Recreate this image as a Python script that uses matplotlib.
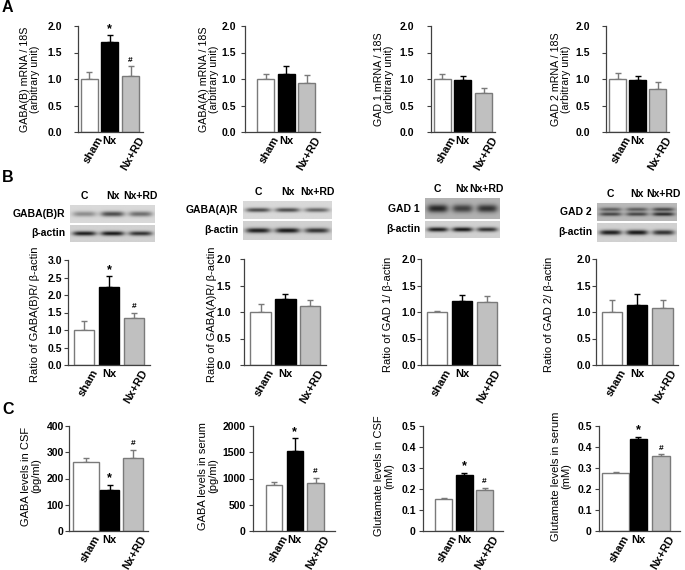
import matplotlib
matplotlib.use('Agg')
import matplotlib.pyplot as plt
import matplotlib.transforms as mtransforms
import numpy as np

plt.rcParams['font.family'] = ['Liberation Sans', 'DejaVu Sans']

W, H = 685, 570

groups = ['sham', 'Nx', 'Nx+RD']
lanes = ['C', 'Nx', 'Nx+RD']

# A: mRNA / 18S
gabab_mrna = [1.00, 1.70, 1.06]
gabab_mrna_err = [0.14, 0.13, 0.18]
gabaa_mrna = [1.00, 1.10, 0.93]
gabaa_mrna_err = [0.09, 0.14, 0.14]
gad1_mrna = [1.00, 0.98, 0.73]
gad1_mrna_err = [0.09, 0.08, 0.10]
gad2_mrna = [1.00, 0.98, 0.81]
gad2_mrna_err = [0.12, 0.08, 0.13]

# B: protein / beta-actin
gabab_prot = [1.00, 2.22, 1.33]
gabab_prot_err = [0.27, 0.33, 0.17]
gabaa_prot = [1.00, 1.25, 1.12]
gabaa_prot_err = [0.16, 0.09, 0.10]
gad1_prot = [1.00, 1.20, 1.19]
gad1_prot_err = [0.02, 0.12, 0.12]
gad2_prot = [1.00, 1.14, 1.08]
gad2_prot_err = [0.23, 0.20, 0.14]

# C: levels
gaba_csf = [262, 155, 277]
gaba_csf_err = [17, 22, 33]
gaba_serum = [885, 1520, 905]
gaba_serum_err = [40, 250, 105]
glu_csf = [0.152, 0.265, 0.197]
glu_csf_err = [0.004, 0.013, 0.007]
glu_serum = [0.277, 0.440, 0.357]
glu_serum_err = [0.006, 0.010, 0.008]

# blot band strength per lane (target, beta-actin)
blot_gabab = [0.30, 0.55, 0.42]
blot_gabaa = [0.55, 0.55, 0.45]
blot_gad1 = [0.55, 0.45, 0.50]
blot_gad2 = [0.45, 0.45, 0.55]
blot_actin = [0.70, 0.72, 0.62]

fills = ['white', 'black', '#c0c0c0']
edges = ['#7a7a7a', 'black', '#7a7a7a']

fig = plt.figure(figsize=(W / 100, H / 100), dpi=100)


def px_axes(x0, x1, y0, y1):
    return fig.add_axes([x0 / W, 1 - y1 / H, (x1 - x0) / W, (y1 - y0) / H])


def bar_panel(box, c0, s, widths, vals, errs, ticks, ticklabels, pad, marks):
    x0, x1, y0, y1 = box
    ax = px_axes(x0, x1, y0, y1)
    pos = np.arange(3)
    ax.bar(pos, vals, width=np.array(widths) / s, color=fills,
           edgecolor=edges, linewidth=1.0, zorder=2)
    for i in range(3):
        ax.errorbar(i, vals[i], yerr=[[0], [errs[i]]], color=edges[i],
                    capsize=2.5, elinewidth=1.0, capthick=1.0, zorder=1)
    ax.set_xlim((x0 - c0) / s, (x1 - c0) / s)
    ax.set_ylim(0, ticks[-1])
    ax.set_yticks(ticks)
    ax.set_yticklabels(ticklabels, fontsize=7.5, fontweight='bold')
    ax.set_xticks([])
    for sp in ['top', 'right']:
        ax.spines[sp].set_visible(False)
    for sp in ['left', 'bottom']:
        ax.spines[sp].set_color('#404040')
        ax.spines[sp].set_linewidth(0.9)
    ax.tick_params(axis='y', length=3, width=0.8, color='#404040',
                   pad=pad * 0.72)
    ax.patch.set_alpha(0)

    trans = mtransforms.blended_transform_factory(ax.transData, ax.transAxes)
    for i, g in enumerate(groups):
        if g == 'Nx':
            off = mtransforms.ScaledTranslation(0, -4 / 100, fig.dpi_scale_trans)
            ax.text(i, 0, g, transform=trans + off, ha='center', va='top',
                    fontsize=8, fontweight='bold')
        else:
            off = mtransforms.ScaledTranslation(7 / 100, -3 / 100, fig.dpi_scale_trans)
            ax.text(i, 0, g, transform=trans + off, ha='right', va='top',
                    rotation=60, rotation_mode='anchor',
                    fontsize=8, fontweight='bold')
    if marks:
        ax.annotate('*', (1, vals[1] + errs[1]), xytext=(0, 0),
                    textcoords='offset points', ha='center', va='bottom',
                    fontsize=9, fontweight='bold')
        ax.annotate('#', (2, vals[2] + errs[2]), xytext=(0, 2),
                    textcoords='offset points', ha='center', va='bottom',
                    fontsize=6, fontweight='bold')
    return ax


def ylabel(text, cx, cy, size):
    fig.text(cx / W, 1 - cy / H, text, rotation=90, ha='center', va='center',
             fontsize=size, linespacing=1.05)


def blot_img(levels, bg, thick, double=False, nrow=24, ncol=90):
    yy = np.linspace(-1, 1, nrow)[:, None]
    xx = np.linspace(0, 3, ncol)[None, :]
    img = np.full((nrow, ncol), bg)
    for i, lev in enumerate(levels):
        lane = np.exp(-((xx - (i + 0.5)) / 0.42) ** 4)
        if double:
            band = 0.8 * np.exp(-((yy + 0.3) / thick) ** 2) + np.exp(-((yy - 0.25) / thick) ** 2)
        else:
            band = np.exp(-(yy / thick) ** 2)
        img = img - lev * lane * band
    return np.clip(img, 0, 1)


def blot(x0, x1, ytop, ymid, ybot, name, levels, bg, thick, double=False):
    a1 = px_axes(x0, x1, ytop, ymid - 1)
    a1.imshow(blot_img(levels, bg, thick, double), cmap='gray', vmin=0, vmax=1,
              aspect='auto', interpolation='bilinear')
    a2 = px_axes(x0, x1, ymid + 1, ybot)
    a2.imshow(blot_img(blot_actin, 0.82, 0.28), cmap='gray', vmin=0, vmax=1,
              aspect='auto', interpolation='bilinear')
    for a in (a1, a2):
        a.set_axis_off()
    fig.text((x0 - 5) / W, 1 - (ytop + ymid) / 2 / H, name, ha='right',
             va='center', fontsize=7.5, fontweight='bold')
    fig.text((x0 - 5) / W, 1 - (ymid + ybot) / 2 / H, '\u03b2-actin', ha='right',
             va='center', fontsize=7.5, fontweight='bold')
    for i, ln in enumerate(lanes):
        fig.text((x0 + (x1 - x0) * (i + 0.5) / 3) / W, 1 - (ytop - 4) / H, ln,
                 ha='center', va='bottom', fontsize=7.5, fontweight='bold')


t_a = [0.0, 0.5, 1.0, 1.5, 2.0]
l_a = ['%.1f' % v for v in t_a]
t_b1 = [0.0, 0.5, 1.0, 1.5, 2.0, 2.5, 3.0]
l_b1 = ['%.1f' % v for v in t_b1]
t_c1 = [0, 100, 200, 300, 400]
t_c2 = [0, 500, 1000, 1500, 2000]
t_c3 = [0, 0.1, 0.2, 0.3, 0.4, 0.5]
l_c3 = ['0', '0.1', '0.2', '0.3', '0.4', '0.5']

# row A
bar_panel((78, 143, 26, 132), 89, 20.75, [17, 17, 17], gabab_mrna, gabab_mrna_err, t_a, l_a, 12, True)
bar_panel((245, 320, 26, 132), 265.5, 20.5, [17, 17, 17], gabaa_mrna, gabaa_mrna_err, t_a, l_a, 5, False)
bar_panel((431, 495, 26, 132), 442, 20.75, [17, 17, 17], gad1_mrna, gad1_mrna_err, t_a, l_a, 13, False)
bar_panel((606, 669, 26, 132), 617.5, 20, [17, 17, 17], gad2_mrna, gad2_mrna_err, t_a, l_a, 12, False)
ylabel('GABA(B) mRNA / 18S\n(arbitrary unit)', 30, 79, 7.7)
ylabel('GABA(A) mRNA / 18S\n(arbitrary unit)', 209, 79, 7.7)
ylabel('GAD 1 mRNA / 18S\n(arbitrary unit)', 384, 79, 7.7)
ylabel('GAD 2 mRNA / 18S\n(arbitrary unit)', 561, 79, 7.7)

# row B blots
blot(70, 155, 205, 224, 242, 'GABA(B)R', blot_gabab, 0.85, 0.30)
blot(243, 332, 201, 220, 240, 'GABA(A)R', blot_gabaa, 0.85, 0.25)
blot(425, 499, 198, 220, 238, 'GAD 1', blot_gad1, 0.70, 0.40)
blot(597, 677, 203, 222, 242, 'GAD 2', blot_gad2, 0.72, 0.22, double=True)

# row B bars
bar_panel((68, 150, 260, 365), 84, 25, [20, 20, 20], gabab_prot, gabab_prot_err, t_b1, l_b1, 2, True)
bar_panel((244, 326, 259, 365), 260.5, 24.75, [20.5, 20.5, 20.5], gabaa_prot, gabaa_prot_err, t_a, l_a, 9, False)
bar_panel((421, 500, 259, 365), 437, 25, [20, 20, 20], gad1_prot, gad1_prot_err, t_a, l_a, 1, False)
bar_panel((596, 678, 259, 365), 612, 25.25, [20, 20, 21], gad2_prot, gad2_prot_err, t_a, l_a, 1, False)
ylabel('Ratio of GABA(B)R/ \u03b2-actin', 35, 314, 8)
ylabel('Ratio of GABA(A)R/ \u03b2-actin', 212, 314, 8)
ylabel('Ratio of GAD 1/ \u03b2-actin', 388, 314, 8)
ylabel('Ratio of GAD 2/ \u03b2-actin', 549, 314, 8)

# row C
bar_panel((69, 148, 426, 531), 86, 23.5, [26, 19, 20], gaba_csf, gaba_csf_err, t_c1, [str(v) for v in t_c1], 1, True)
bar_panel((253, 335, 426, 531), 274, 20.75, [16.5, 16.5, 16.5], gaba_serum, gaba_serum_err, t_c2, [str(v) for v in t_c2], 3, True)
bar_panel((423, 503, 426, 531), 443.5, 20.5, [17, 17, 17], glu_csf, glu_csf_err, t_c3, l_c3, 3, True)
bar_panel((599, 680, 426, 531), 615.5, 22.75, [27, 17, 18], glu_serum, glu_serum_err, t_c3, l_c3, 3, True)
ylabel('GABA levels in CSF\n(pg/ml)', 31, 476, 8)
ylabel('GABA levels in serum\n(pg/ml)', 208, 476, 8)
ylabel('Glutamate levels in CSF\n(mM)', 384, 476, 8)
ylabel('Glutamate levels in serum\n(mM)', 561, 476, 8)

# panel letters
for letter, y in [('A', 8), ('B', 177), ('C', 409)]:
    fig.text(2 / W, 1 - y / H, letter, ha='left', va='center',
             fontsize=11.5, fontweight='bold')

fig.savefig('out.png', dpi=100)
